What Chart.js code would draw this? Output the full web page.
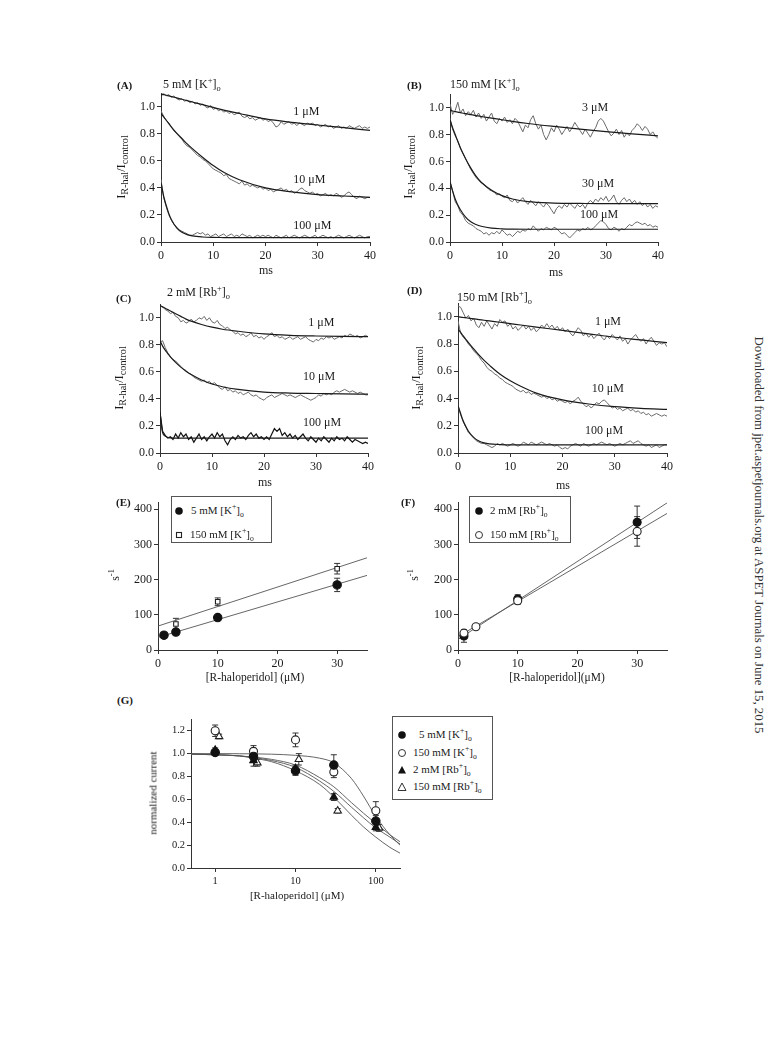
<!DOCTYPE html>
<html><head><meta charset="utf-8">
<script src="https://cdn.jsdelivr.net/npm/chart.js@4"></script>
<style>
html,body{margin:0;padding:0;background:#fff}
body{width:780px;height:1044px;position:relative;overflow:hidden;font-family:"Liberation Serif","Times New Roman",serif;color:#222}
.w{position:absolute}
.t{position:absolute;white-space:nowrap;line-height:1}
sup,sub{font-size:0.7em;line-height:0}
.yl sub{font-size:0.82em}
.lg{position:absolute;border:1px solid #555;background:#fff;box-sizing:border-box}
</style></head><body>
<script>
// ---------- data: panels A-D (current traces, ms) ----------
const TIME=[0,0.5,1,1.5,2,2.5,3,3.5,4,4.5,5,5.5,6,6.5,7,7.5,8,8.5,9,9.5,10,10.5,11,11.5,12,12.5,13,13.5,14,14.5,15,15.5,16,16.5,17,17.5,18,18.5,19,19.5,20,20.5,21,21.5,22,22.5,23,23.5,24,24.5,25,25.5,26,26.5,27,27.5,28,28.5,29,29.5,30,30.5,31,31.5,32,32.5,33,33.5,34,34.5,35,35.5,36,36.5,37,37.5,38,38.5,39,39.5,40];
const FIT_T=[0,0.5,1,1.5,2,3,4,5,6,8,10,12,15,20,25,30,35,40];

const A_1=[1.09,1.10,1.08,1.09,1.07,1.08,1.06,1.05,1.06,1.04,1.05,1.03,1.04,1.02,1.03,1.01,1.02,1.00,0.99,1.01,0.98,0.99,0.97,0.98,0.96,0.97,0.95,0.96,0.94,0.95,0.96,0.93,0.92,0.93,0.91,0.92,0.90,0.91,0.92,0.90,0.91,0.89,0.90,0.88,0.85,0.86,0.89,0.87,0.88,0.89,0.87,0.88,0.86,0.88,0.87,0.86,0.88,0.87,0.88,0.86,0.87,0.85,0.86,0.87,0.85,0.86,0.84,0.85,0.86,0.84,0.85,0.84,0.86,0.85,0.84,0.85,0.86,0.84,0.85,0.84,0.85];
const A_10=[0.97,0.93,0.90,0.88,0.85,0.82,0.80,0.78,0.76,0.73,0.71,0.70,0.68,0.66,0.64,0.63,0.61,0.60,0.58,0.56,0.54,0.53,0.52,0.51,0.49,0.50,0.47,0.46,0.45,0.44,0.43,0.45,0.42,0.43,0.41,0.42,0.41,0.40,0.41,0.39,0.40,0.38,0.39,0.37,0.38,0.39,0.40,0.38,0.39,0.37,0.38,0.36,0.37,0.39,0.40,0.38,0.37,0.36,0.37,0.35,0.36,0.34,0.35,0.36,0.34,0.35,0.34,0.36,0.35,0.33,0.34,0.36,0.37,0.35,0.33,0.32,0.34,0.33,0.32,0.33,0.33];
const A_100=[0.46,0.33,0.26,0.20,0.16,0.13,0.11,0.09,0.08,0.07,0.06,0.05,0.05,0.06,0.07,0.06,0.07,0.05,0.06,0.04,0.05,0.06,0.04,0.05,0.06,0.04,0.05,0.06,0.04,0.05,0.04,0.06,0.05,0.04,0.05,0.03,0.04,0.05,0.04,0.05,0.04,0.05,0.04,0.03,0.05,0.04,0.03,0.04,0.05,0.03,0.04,0.05,0.04,0.03,0.04,0.05,0.04,0.03,0.04,0.05,0.03,0.04,0.05,0.04,0.03,0.04,0.03,0.04,0.05,0.04,0.03,0.04,0.05,0.04,0.03,0.04,0.05,0.04,0.03,0.04,0.04];
const A_FIT_1=[1.09,1.09,1.085,1.08,1.075,1.065,1.055,1.045,1.035,1.015,0.995,0.975,0.95,0.91,0.885,0.865,0.845,0.825];
const A_FIT_10=[0.95,0.925,0.90,0.875,0.85,0.805,0.765,0.725,0.69,0.625,0.565,0.515,0.46,0.40,0.37,0.35,0.34,0.33];
const A_FIT_100=[0.44,0.34,0.27,0.21,0.165,0.105,0.072,0.055,0.045,0.037,0.034,0.033,0.032,0.032,0.032,0.032,0.032,0.032];

const B_3=[1.03,0.95,0.98,1.04,0.96,0.99,0.94,0.97,0.95,0.98,0.93,0.96,0.92,0.95,0.90,0.93,0.96,0.90,0.88,0.92,0.90,0.93,0.89,0.91,0.88,0.92,0.90,0.86,0.82,0.87,0.85,0.91,0.94,0.88,0.84,0.87,0.80,0.76,0.80,0.85,0.82,0.87,0.84,0.80,0.83,0.86,0.82,0.85,0.89,0.86,0.83,0.80,0.84,0.81,0.78,0.82,0.85,0.90,0.92,0.90,0.86,0.82,0.79,0.81,0.84,0.80,0.83,0.78,0.81,0.79,0.83,0.85,0.88,0.86,0.83,0.86,0.84,0.80,0.82,0.79,0.77];
const B_30=[0.92,0.84,0.79,0.75,0.70,0.66,0.62,0.58,0.54,0.51,0.48,0.46,0.44,0.43,0.41,0.39,0.38,0.37,0.35,0.36,0.34,0.33,0.35,0.31,0.30,0.32,0.29,0.31,0.33,0.30,0.28,0.31,0.29,0.27,0.30,0.28,0.26,0.29,0.27,0.24,0.21,0.25,0.27,0.25,0.28,0.26,0.29,0.27,0.25,0.28,0.26,0.28,0.25,0.29,0.31,0.29,0.32,0.30,0.33,0.31,0.34,0.30,0.32,0.35,0.30,0.28,0.31,0.33,0.30,0.32,0.29,0.31,0.28,0.30,0.27,0.29,0.26,0.28,0.25,0.27,0.26];
const B_100=[0.45,0.38,0.30,0.27,0.22,0.20,0.16,0.14,0.13,0.12,0.10,0.09,0.08,0.06,0.07,0.05,0.07,0.06,0.08,0.06,0.09,0.07,0.05,0.06,0.04,0.06,0.08,0.07,0.09,0.08,0.10,0.09,0.12,0.10,0.08,0.10,0.09,0.11,0.10,0.09,0.11,0.10,0.08,0.06,0.07,0.05,0.03,0.05,0.07,0.09,0.08,0.10,0.09,0.11,0.09,0.10,0.12,0.14,0.16,0.15,0.13,0.10,0.09,0.11,0.10,0.08,0.10,0.09,0.11,0.13,0.12,0.14,0.15,0.14,0.13,0.14,0.12,0.13,0.11,0.12,0.11];
const B_FIT_3=[0.98,0.975,0.97,0.967,0.963,0.955,0.948,0.941,0.934,0.922,0.91,0.898,0.882,0.86,0.84,0.822,0.805,0.79];
const B_FIT_30=[0.91,0.85,0.80,0.75,0.70,0.62,0.55,0.49,0.445,0.385,0.345,0.32,0.30,0.29,0.287,0.285,0.285,0.285];
const B_FIT_100=[0.45,0.38,0.32,0.275,0.24,0.185,0.15,0.13,0.117,0.103,0.098,0.096,0.095,0.095,0.095,0.095,0.095,0.095];

const C_1=[1.09,1.08,1.06,1.05,1.03,1.04,1.01,1.00,0.97,0.98,0.96,0.97,0.99,0.97,0.98,1.00,0.99,1.01,0.98,1.00,0.97,0.96,0.98,0.95,0.94,0.92,0.93,0.91,0.90,0.88,0.89,0.87,0.88,0.86,0.87,0.89,0.86,0.87,0.85,0.86,0.84,0.86,0.87,0.89,0.86,0.87,0.85,0.86,0.84,0.85,0.86,0.84,0.85,0.86,0.84,0.85,0.86,0.84,0.83,0.82,0.84,0.83,0.85,0.84,0.86,0.85,0.86,0.84,0.85,0.86,0.85,0.87,0.86,0.88,0.87,0.86,0.87,0.85,0.86,0.87,0.86];
const C_10=[0.82,0.83,0.78,0.74,0.71,0.69,0.68,0.66,0.64,0.62,0.61,0.59,0.58,0.56,0.55,0.54,0.53,0.54,0.52,0.53,0.51,0.52,0.50,0.48,0.47,0.49,0.46,0.47,0.45,0.46,0.44,0.45,0.43,0.44,0.45,0.43,0.42,0.43,0.41,0.40,0.39,0.41,0.42,0.43,0.41,0.42,0.43,0.44,0.43,0.42,0.43,0.42,0.41,0.42,0.43,0.42,0.41,0.40,0.39,0.40,0.41,0.43,0.42,0.44,0.43,0.44,0.43,0.45,0.46,0.45,0.46,0.47,0.46,0.45,0.46,0.45,0.44,0.45,0.44,0.43,0.43];
const C_100=[0.30,0.16,0.13,0.11,0.12,0.10,0.14,0.11,0.15,0.12,0.14,0.10,0.12,0.08,0.11,0.14,0.10,0.12,0.09,0.12,0.14,0.11,0.15,0.12,0.14,0.09,0.06,0.10,0.12,0.10,0.13,0.11,0.12,0.10,0.13,0.15,0.12,0.14,0.11,0.12,0.10,0.12,0.10,0.14,0.18,0.16,0.18,0.13,0.15,0.12,0.14,0.11,0.13,0.10,0.12,0.14,0.11,0.09,0.12,0.10,0.08,0.11,0.09,0.12,0.10,0.08,0.11,0.09,0.12,0.10,0.11,0.09,0.12,0.10,0.08,0.10,0.09,0.08,0.07,0.08,0.07];
const C_FIT_1=[1.09,1.08,1.07,1.06,1.05,1.03,1.01,0.99,0.975,0.95,0.93,0.915,0.90,0.88,0.87,0.865,0.862,0.86];
const C_FIT_10=[0.83,0.79,0.76,0.735,0.71,0.67,0.635,0.605,0.58,0.54,0.51,0.49,0.47,0.45,0.443,0.44,0.437,0.435];
const C_FIT_100=[0.30,0.15,0.125,0.115,0.112,0.11,0.11,0.11,0.11,0.11,0.11,0.11,0.11,0.11,0.11,0.11,0.11,0.11];

const D_1=[1.08,1.07,1.03,0.99,1.01,0.97,0.99,0.94,0.92,0.96,0.93,0.97,0.94,0.91,0.95,0.93,0.98,0.96,0.97,0.93,0.95,0.91,0.93,0.90,0.92,0.94,0.91,0.93,0.90,0.92,0.89,0.91,0.94,0.92,0.95,0.92,0.94,0.91,0.93,0.90,0.92,0.89,0.91,0.88,0.86,0.89,0.92,0.90,0.86,0.88,0.85,0.87,0.84,0.86,0.88,0.85,0.83,0.86,0.84,0.87,0.85,0.83,0.86,0.82,0.84,0.80,0.83,0.85,0.87,0.84,0.82,0.84,0.80,0.83,0.85,0.82,0.79,0.81,0.80,0.81,0.78];
const D_10=[0.97,0.88,0.85,0.83,0.80,0.78,0.75,0.73,0.71,0.68,0.66,0.63,0.61,0.60,0.58,0.57,0.55,0.54,0.52,0.51,0.50,0.49,0.47,0.46,0.45,0.46,0.44,0.45,0.43,0.44,0.43,0.42,0.41,0.42,0.40,0.41,0.39,0.40,0.38,0.39,0.38,0.37,0.38,0.36,0.38,0.39,0.41,0.38,0.36,0.34,0.35,0.33,0.35,0.37,0.36,0.38,0.39,0.37,0.35,0.33,0.34,0.32,0.33,0.31,0.32,0.33,0.31,0.32,0.30,0.31,0.29,0.30,0.28,0.29,0.27,0.28,0.29,0.28,0.27,0.28,0.27];
const D_100=[0.35,0.28,0.23,0.19,0.15,0.13,0.11,0.09,0.08,0.07,0.07,0.06,0.05,0.04,0.05,0.07,0.06,0.07,0.06,0.05,0.06,0.07,0.06,0.05,0.06,0.08,0.07,0.06,0.08,0.07,0.06,0.07,0.08,0.07,0.06,0.07,0.06,0.05,0.06,0.04,0.03,0.04,0.03,0.05,0.06,0.07,0.06,0.05,0.07,0.06,0.05,0.06,0.07,0.06,0.07,0.08,0.07,0.06,0.07,0.06,0.05,0.06,0.07,0.06,0.07,0.08,0.09,0.07,0.08,0.09,0.07,0.06,0.05,0.06,0.04,0.05,0.06,0.04,0.05,0.06,0.06];
const D_FIT_1=[1.0,0.998,0.995,0.993,0.99,0.985,0.98,0.975,0.97,0.96,0.95,0.94,0.925,0.90,0.875,0.85,0.83,0.81];
const D_FIT_10=[0.91,0.885,0.86,0.835,0.81,0.765,0.72,0.68,0.645,0.58,0.53,0.49,0.44,0.39,0.36,0.34,0.328,0.32];
const D_FIT_100=[0.35,0.29,0.235,0.195,0.16,0.115,0.088,0.074,0.067,0.062,0.06,0.06,0.06,0.06,0.06,0.06,0.06,0.06];

const CONC_A=['1 μM','10 μM','100 μM'];
const CONC_B=['3 μM','30 μM','100 μM'];
const CONC_C=['1 μM','10 μM','100 μM'];
const CONC_D=['1 μM','10 μM','100 μM'];
const TRACE_TICKS_X=[0,10,20,30,40];
const TRACE_TICKS_Y=[0,0.2,0.4,0.6,0.8,1.0];

// ---------- data: panels E, F (rate vs concentration) ----------
const E_X_K5=[1,3,10,30];      const E_Y_K5=[42,51,92,185];   const E_ERR_K5=[0,6,5,19];
const E_X_K150=[3,10,30];      const E_Y_K150=[74,137,231];   const E_ERR_K150=[16,11,15];
const E_LINE_X=[0,35];         const E_LINE_K5=[36,212];      const E_LINE_K150=[68,262];
const F_X_RB2=[1,10,30];       const F_Y_RB2=[40,145,363];    const F_ERR_RB2=[18,12,46];
const F_X_RB150=[1,3,10,30];   const F_Y_RB150=[48,66,140,337]; const F_ERR_RB150=[10,3,10,42];
const F_LINE_X=[0,35];         const F_LINE_RB2=[30,418];     const F_LINE_RB150=[38,388];
const EF_TICKS_X=[0,10,20,30];
const EF_TICKS_Y=[0,100,200,300,400];

// ---------- data: panel G (concentration-response) ----------
const G_X=[1,3,10,30,100];
const G_K5=[1.01,0.975,0.85,0.90,0.41];     const G_K5_ERR=[0.02,0.03,0.04,0.09,0.05];
const G_K150=[1.20,1.02,1.12,0.84,0.50];    const G_K150_ERR=[0.05,0.05,0.06,0.05,0.08];
const G_RB2=[1.03,0.94,0.87,0.62,0.355];    const G_RB2_ERR=[0.02,0.05,0.03,0.03,0.03];
const G_X_RB150=[1.12,3.35,11,33.5,110];
const G_RB150=[1.15,0.92,0.95,0.50,0.35];   const G_RB150_ERR=[0.02,0.03,0.05,0.02,0.03];
const G_FIT_X=[0.5,1,2,3,5,10,20,30,50,70,100,150,200];
const G_FIT_K5=[1.0,1.0,0.999,0.998,0.995,0.985,0.96,0.92,0.78,0.63,0.45,0.29,0.20];
const G_FIT_K150=[0.995,0.99,0.98,0.97,0.95,0.90,0.79,0.71,0.57,0.48,0.39,0.29,0.23];
const G_FIT_RB150=[0.995,0.99,0.98,0.965,0.94,0.88,0.76,0.67,0.53,0.44,0.35,0.27,0.21];
const G_FIT_RB2=[0.997,0.99,0.98,0.96,0.93,0.85,0.73,0.62,0.46,0.36,0.27,0.18,0.13];
const G_TICKS_X=[1,10,100];
const G_TICKS_Y=[0,0.2,0.4,0.6,0.8,1.0,1.2];

// ---------- helpers ----------
const SERIF='"Liberation Serif","Times New Roman",serif';
const ML=42, MB=24, PT=6, PR=10;
const pts=(xs,ys)=>xs.map((x,i)=>({x:x,y:ys[i]}));

function txt(html,x,y,o){
  o=o||{};
  const d=document.createElement('div');
  d.className='t'+(o.cls?' '+o.cls:'');
  d.innerHTML=html;
  d.style.left=x+'px'; d.style.top=y+'px';
  d.style.fontSize=(o.size||12)+'px';
  if(o.bold) d.style.fontWeight='bold';
  d.style.color=o.color||'#1a1a1a';
  let tr=o.align==='c'?'translate(-50%,-50%)':'translate(0,-50%)';
  if(o.rot) tr='translate(-50%,-50%) rotate('+o.rot+'deg)';
  d.style.transform=tr;
  document.body.appendChild(d);
}
function marker(type,x,y){
  const s={fc:'<circle cx="6" cy="6" r="3.8" fill="#111"/>',
           oc:'<circle cx="6" cy="6" r="3.5" fill="#fff" stroke="#333" stroke-width="1"/>',
           sq:'<rect x="3.5" y="3.5" width="5" height="5" fill="#fff" stroke="#222" stroke-width="1.1"/>',
           ft:'<polygon points="6,2 10,9.5 2,9.5" fill="#111"/>',
           ot:'<polygon points="6,2 10,9.5 2,9.5" fill="#fff" stroke="#333" stroke-width="1"/>'}[type];
  const d=document.createElement('div');
  d.className='w';
  d.style.left=(x-6)+'px'; d.style.top=(y-6)+'px';
  d.innerHTML='<svg width="12" height="12">'+s+'</svg>';
  document.body.appendChild(d);
}
function box(l,t,w,h){
  const d=document.createElement('div');
  d.className='lg';
  d.style.left=l+'px'; d.style.top=t+'px'; d.style.width=w+'px'; d.style.height=h+'px';
  document.body.appendChild(d);
}

const errPlugin={id:'errbars',beforeDatasetsDraw(chart){
  const ctx=chart.ctx, ys=chart.scales.y;
  chart.data.datasets.forEach((ds,i)=>{
    if(!ds.err) return;
    const meta=chart.getDatasetMeta(i);
    meta.data.forEach((p,j)=>{
      const e=ds.err[j]; if(!e) return;
      const v=ds.data[j].y;
      const yT=ys.getPixelForValue(v+e), yB=ys.getPixelForValue(v-e), x=p.x;
      ctx.save(); ctx.strokeStyle='#333'; ctx.lineWidth=1;
      ctx.beginPath();
      ctx.moveTo(x,yT); ctx.lineTo(x,yB);
      ctx.moveTo(x-3,yT); ctx.lineTo(x+3,yT);
      ctx.moveTo(x-3,yB); ctx.lineTo(x+3,yB);
      ctx.stroke(); ctx.restore();
    });
  });
}};
function labelPlugin(items){
  return {id:'lbls',afterDatasetsDraw(chart){
    const ctx=chart.ctx; ctx.save();
    ctx.font='12px '+SERIF; ctx.fillStyle='#1a1a1a';
    ctx.textAlign='left'; ctx.textBaseline='middle';
    items.forEach(it=>ctx.fillText(it.text,chart.scales.x.getPixelForValue(it.x),chart.scales.y.getPixelForValue(it.y)));
    ctx.restore();
  }};
}

function axis(o,isX){
  return {
    type:o.type||'linear', min:o.min, max:o.max,
    afterBuildTicks:s=>{s.ticks=o.ticks.map(v=>({value:v}));},
    afterFit:s=>{ if(isX) s.height=MB; else s.width=ML; },
    grid:{display:true,drawOnChartArea:false,drawTicks:true,tickLength:4,color:'#333',lineWidth:1},
    border:{display:true,color:'#333',width:1},
    ticks:{font:{family:SERIF,size:o.fs||12},color:'#1a1a1a',padding:isX?3:2,autoSkip:false,maxRotation:0,
           callback:o.fmt||(v=>v)}
  };
}

function makeChart(rect,datasets,xo,yo,plugins){
  const W=rect.r-rect.l+ML+PR, H=rect.b-rect.t+PT+MB;
  const wrap=document.createElement('div');
  wrap.className='w';
  wrap.style.left=(rect.l-ML)+'px'; wrap.style.top=(rect.t-PT)+'px';
  wrap.style.width=W+'px'; wrap.style.height=H+'px';
  const c=document.createElement('canvas');
  c.width=W; c.height=H; c.style.width=W+'px'; c.style.height=H+'px';
  wrap.appendChild(c); document.body.appendChild(wrap);
  return new Chart(c,{type:'line',data:{datasets:datasets},
    options:{responsive:false,maintainAspectRatio:false,animation:false,
      layout:{padding:{left:0,top:PT,right:PR,bottom:0}},
      plugins:{legend:{display:false},tooltip:{enabled:false}},
      elements:{line:{tension:0}},
      scales:{x:axis(xo,true),y:axis(yo,false)}},
    plugins:[errPlugin].concat(plugins||[])});
}

const fmt1=v=>Number(v).toFixed(1);
function traceDatasets(fits,traces,darkTrace){
  const ds=[];
  fits.forEach(f=>ds.push({data:pts(FIT_T,f),borderColor:'#1a1a1a',borderWidth:1.2,pointRadius:0,cubicInterpolationMode:'monotone',fill:false}));
  traces.forEach((t,i)=>ds.push({data:pts(TIME,t),borderColor:(darkTrace===i)?'#111':'#6a6a6a',borderWidth:(darkTrace===i)?1.2:1,pointRadius:0,fill:false}));
  return ds;
}
const TX={min:0,max:40,ticks:TRACE_TICKS_X};
const TY={min:0,max:1.1,ticks:TRACE_TICKS_Y,fmt:fmt1};

// ---------- panel A ----------
makeChart({l:161,r:370,t:90,b:242},traceDatasets([A_FIT_1,A_FIT_10,A_FIT_100],[A_1,A_10,A_100]),TX,TY,
  [labelPlugin([{text:CONC_A[0],x:25.3,y:0.96},{text:CONC_A[1],x:25.3,y:0.46},{text:CONC_A[2],x:25.3,y:0.12}])]);
// ---------- panel B ----------
makeChart({l:450,r:658,t:91,b:242},traceDatasets([B_FIT_3,B_FIT_30,B_FIT_100],[B_3,B_30,B_100]),TX,TY,
  [labelPlugin([{text:CONC_B[0],x:25.4,y:1.0},{text:CONC_B[1],x:25.4,y:0.43},{text:CONC_B[2],x:25.0,y:0.20}])]);
// ---------- panel C ----------
makeChart({l:160,r:368,t:301,b:453},traceDatasets([C_FIT_1,C_FIT_10,C_FIT_100],[C_1,C_10,C_100],2),TX,TY,
  [labelPlugin([{text:CONC_C[0],x:28.5,y:0.96},{text:CONC_C[1],x:27.5,y:0.56},{text:CONC_C[2],x:27.5,y:0.22}])]);
// ---------- panel D ----------
makeChart({l:458,r:667,t:300,b:453},traceDatasets([D_FIT_1,D_FIT_10,D_FIT_100],[D_1,D_10,D_100]),TX,TY,
  [labelPlugin([{text:CONC_D[0],x:26.2,y:0.96},{text:CONC_D[1],x:25.6,y:0.47},{text:CONC_D[2],x:24.3,y:0.16}])]);

// ---------- panels E, F ----------
const EFX={min:0,max:35,ticks:EF_TICKS_X};
const EFY={min:0,max:420,ticks:EF_TICKS_Y};
const lineDs=(xs,ys)=>({data:pts(xs,ys),borderColor:'#555',borderWidth:0.9,pointRadius:0,fill:false});
const markDs=(xs,ys,err,style,filled,r)=>({data:pts(xs,ys),err:err,showLine:false,pointStyle:style,pointRadius:r,
  pointBackgroundColor:filled?'#111':'#fff',pointBorderColor:filled?'#111':'#222',pointBorderWidth:1.1,borderColor:'#222'});
makeChart({l:158,r:367,t:499,b:650},[
  markDs(E_X_K5,E_Y_K5,E_ERR_K5,'circle',true,4.2),
  markDs(E_X_K150,E_Y_K150,E_ERR_K150,'rect',false,3.2),
  lineDs(E_LINE_X,E_LINE_K5),lineDs(E_LINE_X,E_LINE_K150)],EFX,EFY);
makeChart({l:458,r:667,t:499,b:650},[
  markDs(F_X_RB150,F_Y_RB150,F_ERR_RB150,'circle',false,4),
  markDs(F_X_RB2,F_Y_RB2,F_ERR_RB2,'circle',true,4),
  lineDs(F_LINE_X,F_LINE_RB2),lineDs(F_LINE_X,F_LINE_RB150)],EFX,EFY);

// ---------- panel G ----------
const gFit=ys=>({data:pts(G_FIT_X,ys),borderColor:'#555',borderWidth:0.9,pointRadius:0,cubicInterpolationMode:'monotone',fill:false});
makeChart({l:191,r:400,t:717,b:868},[
  markDs(G_X,G_K5,G_K5_ERR,'circle',true,4.2),
  markDs(G_X,G_RB2,G_RB2_ERR,'triangle',true,4.3),
  markDs(G_X,G_K150,G_K150_ERR,'circle',false,4),
  markDs(G_X_RB150,G_RB150,G_RB150_ERR,'triangle',false,4.3),
  gFit(G_FIT_K5),gFit(G_FIT_K150),gFit(G_FIT_RB150),gFit(G_FIT_RB2)],
  {type:'logarithmic',min:0.5,max:200,ticks:G_TICKS_X,fs:10.5,fmt:v=>String(v)},
  {min:0,max:1.3,ticks:G_TICKS_Y,fs:10.5,fmt:fmt1});

// ---------- texts ----------
txt('(A)',117,85,{size:11,bold:true});
txt('5 mM [K<sup>+</sup>]<sub>o</sub>',163,84);
txt('(B)',407,85,{size:11,bold:true});
txt('150 mM [K<sup>+</sup>]<sub>o</sub>',450,84);
txt('(C)',116,298,{size:11,bold:true});
txt('2 mM [Rb<sup>+</sup>]<sub>o</sub>',167,292);
txt('(D)',407,290,{size:11,bold:true});
txt('150 mM [Rb<sup>+</sup>]<sub>o</sub>',457,297);
txt('(E)',116,502,{size:11,bold:true});
txt('(F)',401,502,{size:11,bold:true});
txt('(G)',117,700,{size:11,bold:true});

const YL='I<sub>R-hal</sub>/I<sub>control</sub>';
txt(YL,121,167,{rot:-90,size:12.5,cls:'yl'});
txt(YL,408,167,{rot:-90,size:12.5,cls:'yl'});
txt(YL,119,378,{rot:-90,size:12.5,cls:'yl'});
txt(YL,416,378,{rot:-90,size:12.5,cls:'yl'});
txt('ms',266,270,{align:'c'});
txt('ms',556,272,{align:'c'});
txt('ms',265,482,{align:'c'});
txt('ms',563,485,{align:'c'});
txt('s<sup>-1</sup>',115,575,{rot:-90,size:12});
txt('s<sup>-1</sup>',414,575,{rot:-90,size:12});
txt('[R-haloperidol] (μM)',255,678,{align:'c',size:11.5});
txt('[R-haloperidol](μM)',557,678,{align:'c',size:11.5});
txt('normalized current',153,793,{rot:-90,size:11});
txt('[R-haloperidol] (μM)',297,895,{align:'c',size:11});

// legends
box(171,496,101,47);
marker('fc',179,509); txt('5 mM [K<sup>+</sup>]<sub>o</sub>',191,510,{size:11});
marker('sq',179,533); txt('150 mM [K<sup>+</sup>]<sub>o</sub>',190,534,{size:11});
box(469,496,102,47);
marker('fc',479,509); txt('2 mM [Rb<sup>+</sup>]<sub>o</sub>',490,510,{size:11});
marker('oc',479,533); txt('150 mM [Rb<sup>+</sup>]<sub>o</sub>',490,534,{size:11});
box(392,716,101,84);
marker('fc',402,733); txt('5 mM [K<sup>+</sup>]<sub>o</sub>',419,734,{size:11});
marker('oc',402,751); txt('150 mM [K<sup>+</sup>]<sub>o</sub>',413,752,{size:11});
marker('ft',402,768); txt('2 mM [Rb<sup>+</sup>]<sub>o</sub>',413,769,{size:11});
marker('ot',402,785); txt('150 mM [Rb<sup>+</sup>]<sub>o</sub>',413,786,{size:11});

txt('Downloaded from jpet.aspetjournals.org at ASPET Journals on June 15, 2015',759,535,{rot:90,size:12.8,color:'#333'});
</script>
</body></html>
